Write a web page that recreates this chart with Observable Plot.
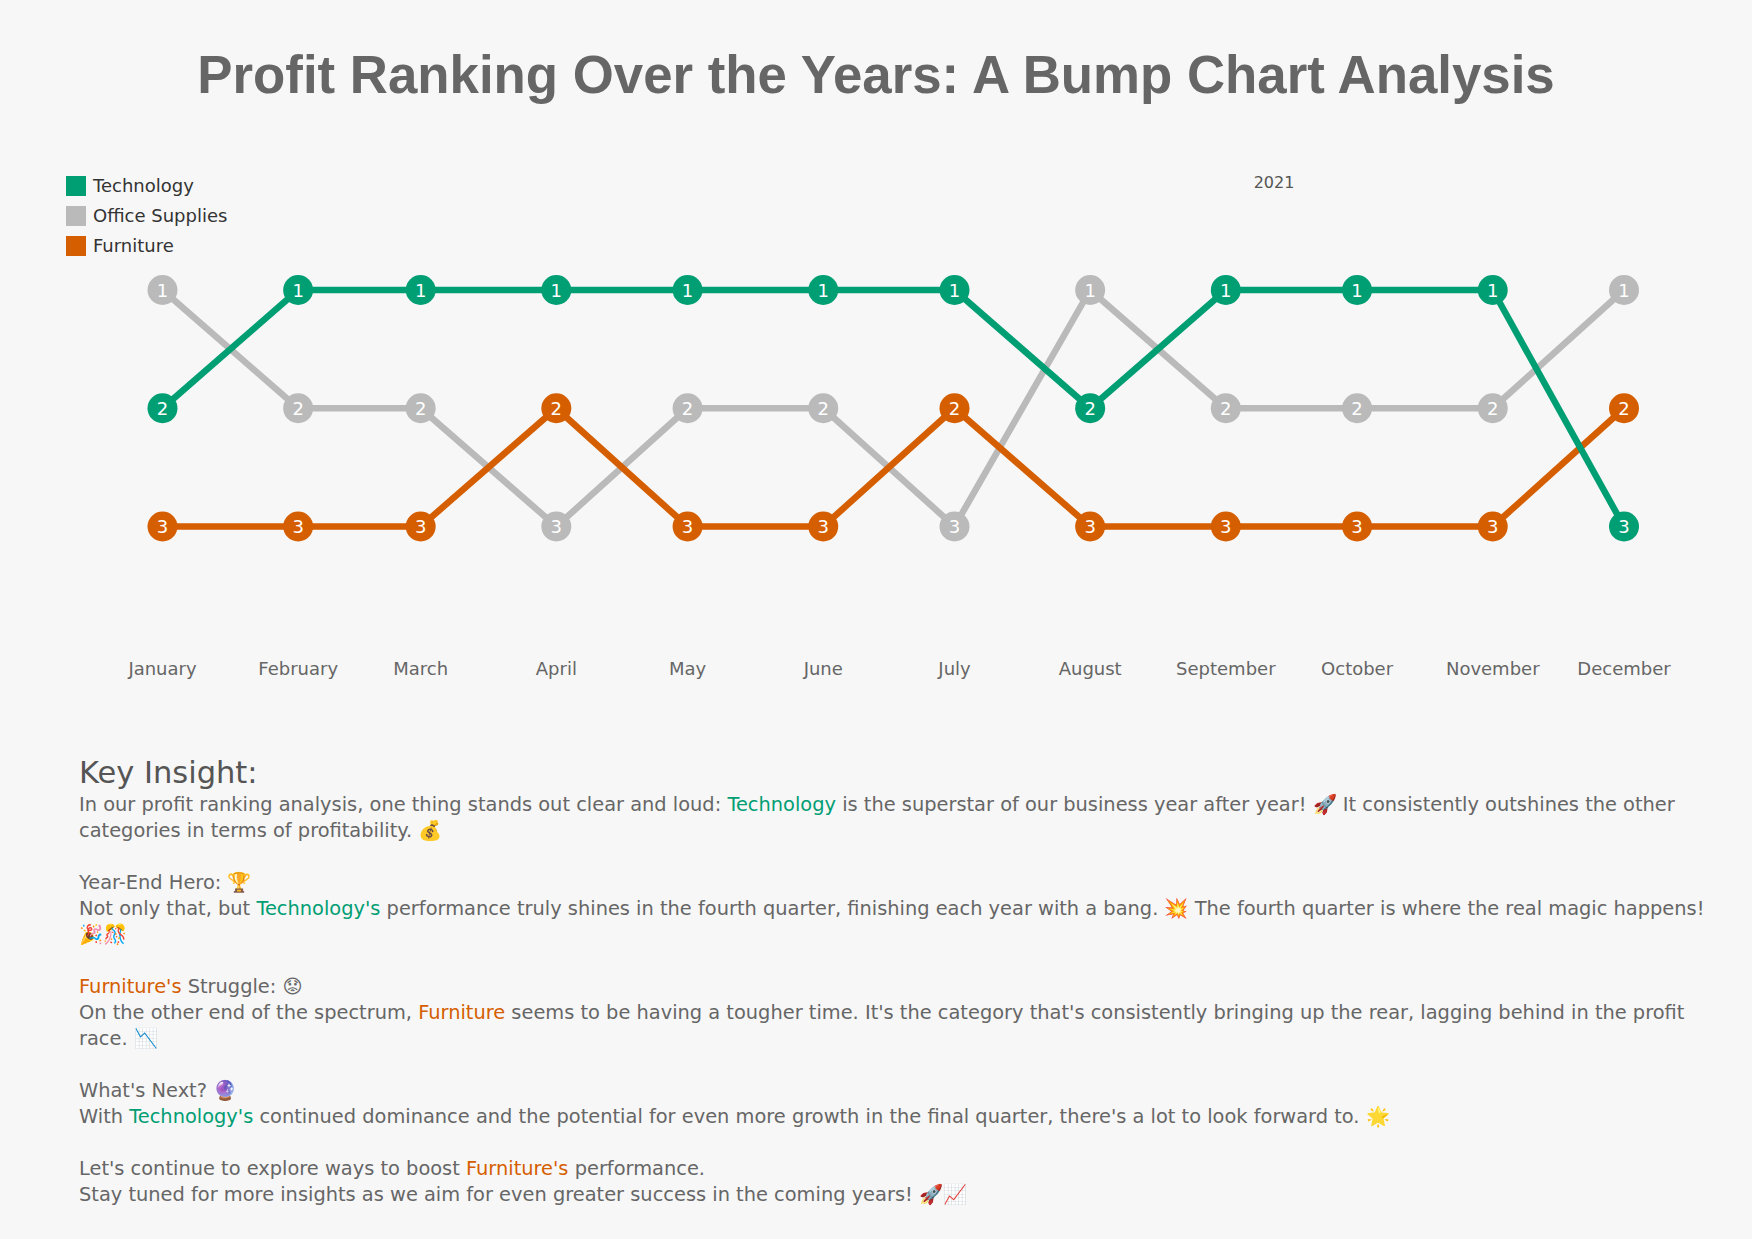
<!DOCTYPE html>
<html>
<head>
<meta charset="utf-8">
<script src="https://cdn.jsdelivr.net/npm/d3@7"></script>
<script src="https://cdn.jsdelivr.net/npm/@observablehq/plot@0.6"></script>
<style>
  html, body { margin: 0; padding: 0; background: #f7f7f7; }
  #page { position: relative; width: 1752px; height: 1239px; background: #f7f7f7; overflow: hidden; font-family: "DejaVu Sans", sans-serif; }
  #title { position: absolute; left: 0; top: 49px; width: 1752px; text-align: center; font-family: "Liberation Sans", Arial, sans-serif; font-weight: bold; font-size: 52.8px; line-height: 52px; color: #666666; white-space: nowrap; }
  .leg { position: absolute; left: 66px; height: 20px; font-size: 18px; line-height: 20px; color: #333333; white-space: nowrap; }
  .leg span.sw { display: inline-block; width: 20px; height: 20px; vertical-align: top; margin-right: 7px; }
  #year { position: absolute; left: 1224px; width: 100px; text-align: center; top: 173px; font-size: 16px; line-height: 20px; color: #555555; }
  #chart { position: absolute; left: 0; top: 230px; }
  #kh { position: absolute; left: 79px; top: 756px; font-size: 30.5px; line-height: 34px; color: #555555; white-space: nowrap; }
  #kb { position: absolute; left: 79px; top: 792px; font-size: 19.4px; line-height: 26px; color: #666666; white-space: nowrap; }
  .t { color: #009E73; }
  .f { color: #D55E00; }
</style>
</head>
<body>
<div id="page">
  <div id="title"></div>
  <div id="legend"></div>
  <div id="year"></div>
  <div id="chart"></div>
  <div id="kh">Key Insight:</div>
  <div id="kb">In our profit ranking analysis, one thing stands out clear and loud: <span class="t">Technology</span> is the superstar of our business year after year! 🚀 It consistently outshines the other<br>categories in terms of profitability. 💰<br><br>Year-End Hero: 🏆<br>Not only that, but <span class="t">Technology's</span> performance truly shines in the fourth quarter, finishing each year with a bang. 💥 The fourth quarter is where the real magic happens!<br>🎉🎊<br><br><span class="f">Furniture's</span> Struggle: 😟<br>On the other end of the spectrum, <span class="f">Furniture</span> seems to be having a tougher time. It's the category that's consistently bringing up the rear, lagging behind in the profit<br>race. 📉<br><br>What's Next? 🔮<br>With <span class="t">Technology's</span> continued dominance and the potential for even more growth in the final quarter, there's a lot to look forward to. 🌟<br><br>Let's continue to explore ways to boost <span class="f">Furniture's</span> performance.<br>Stay tuned for more insights as we aim for even greater success in the coming years! 🚀📈</div>
</div>
<script>
const titleText = "Profit Ranking Over the Years: A Bump Chart Analysis";
const yearLabel = "2021";
const months = ["January","February","March","April","May","June","July","August","September","October","November","December"];
const categories = ["Office Supplies", "Furniture", "Technology"]; // draw order
const legendOrder = ["Technology", "Office Supplies", "Furniture"];
const colors = ["#BABABA", "#D55E00", "#009E73"];
const officeSuppliesRank = [1,2,2,3,2,2,3,1,2,2,2,1];
const furnitureRank      = [3,3,3,2,3,3,2,3,3,3,3,2];
const technologyRank     = [2,1,1,1,1,1,1,2,1,1,1,3];

document.getElementById("title").textContent = titleText;
document.getElementById("year").textContent = yearLabel;

const colorOf = Object.fromEntries(categories.map((c, i) => [c, colors[i]]));
const legend = document.getElementById("legend");
legendOrder.forEach((c, i) => {
  const d = document.createElement("div");
  d.className = "leg";
  d.style.top = (176 + i * 30) + "px";
  d.innerHTML = `<span class="sw" style="background:${colorOf[c]}"></span>${c}`;
  legend.appendChild(d);
});

const monthDates = months.map((m, i) => new Date(Date.UTC(2021, i, 1)));
const series = [officeSuppliesRank, furnitureRank, technologyRank];
const data = [];
categories.forEach((c, ci) => {
  series[ci].forEach((r, mi) => data.push({category: c, date: monthDates[mi], month: months[mi], rank: r}));
});

const fmt = d3.utcFormat("%B");
const chart = Plot.plot({
  width: 1752,
  height: 470,
  marginLeft: 162,
  marginRight: 128.5,
  marginTop: 59.5,
  marginBottom: 174,
  style: {background: "transparent", fontFamily: "DejaVu Sans, sans-serif"},
  x: {type: "utc", domain: [monthDates[0], monthDates[11]], label: null},
  y: {domain: [1, 3], reverse: true, axis: null},
  color: {domain: categories, range: colors},
  marks: [
    Plot.axisX({ticks: monthDates, tickFormat: fmt, tickSize: 0, tickPadding: 136, fontSize: 18, fill: "#666666", label: null}),
    ...categories.map(c => Plot.line(data.filter(d => d.category === c), {x: "date", y: "rank", stroke: "category", strokeWidth: 6.5})),
    ...categories.map(c => Plot.dot(data.filter(d => d.category === c), {x: "date", y: "rank", r: 15, fill: "category", stroke: "none"})),
    Plot.text(data, {x: "date", y: "rank", text: d => String(d.rank), fill: "white", fontSize: 18, dy: 1})
  ]
});
document.getElementById("chart").appendChild(chart);
</script>
</body>
</html>
